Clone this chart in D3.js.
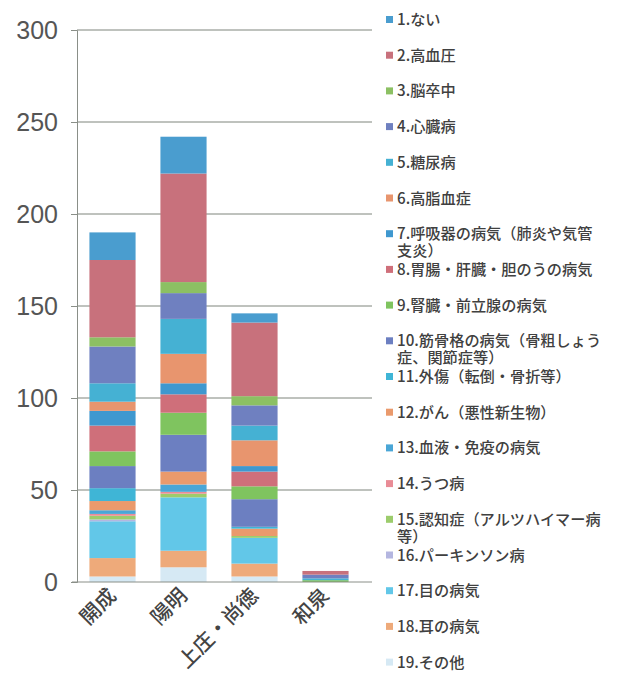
<!DOCTYPE html>
<html>
<head>
<meta charset="utf-8">
<script src="https://cdn.jsdelivr.net/npm/d3@7"></script>
<style>
  html, body { margin: 0; padding: 0; background: #fff; }
  svg { display: block; }
</style>
</head>
<body>
<svg id="chart" width="620" height="674"></svg>
<script>
// ---- data ----
const categories = ["開成", "陽明", "上庄・尚徳", "和泉"];
const seriesNames = [
  "1.ない", "2.高血圧", "3.脳卒中", "4.心臓病", "5.糖尿病", "6.高脂血症",
  "7.呼吸器の病気（肺炎や気管|支炎）", "8.胃腸・肝臓・胆のうの病気", "9.腎臓・前立腺の病気",
  "10.筋骨格の病気（骨粗しょう|症、関節症等）", "11.外傷（転倒・骨折等）", "12.がん（悪性新生物）",
  "13.血液・免疫の病気", "14.うつ病", "15.認知症（アルツハイマー病|等）", "16.パーキンソン病",
  "17.目の病気", "18.耳の病気", "19.その他"
];
// values per category, in series order 1..19
const kaisei   = [15, 42, 5, 20, 10, 5, 8, 14, 8, 12, 7, 5, 2, 1, 2, 1, 20, 10, 3];
const youmei   = [20, 59, 6, 14, 19, 16, 6, 10, 12, 20, 0, 7, 4, 1, 2, 0, 29, 9, 8];
const kamisho  = [5, 40, 5, 11, 8, 14, 3, 8, 7, 15, 1, 4, 0, 0, 1, 0, 14, 7, 3];
const izumi    = [0, 2, 0, 2, 1, 0, 0, 0, 1, 0, 0, 0, 0, 0, 0, 0, 0, 0, 0];
const yTicks = [0, 50, 100, 150, 200, 250, 300];

const seriesColors = [
  "#4a9dcf", "#c8717c", "#8cc063", "#6f80c0", "#45b1d3", "#e8956e",
  "#3f98cf", "#cf6f7a", "#7fc45f", "#6c7fc1", "#3fb5d6", "#ea9a6c",
  "#4aa6d6", "#e98c96", "#9ccc6c", "#b4b6e0", "#62c7e8", "#eeaa7a", "#d6e9f4"
];

// ---- build table ----
const byCat = [kaisei, youmei, kamisho, izumi];
const rows = categories.map((c, i) => {
  const r = { cat: c };
  seriesNames.forEach((s, j) => { r["s" + j] = byCat[i][j]; });
  return r;
});
// stack so that series 1 is at the top: stack keys bottom-first
const keysBottomFirst = seriesNames.map((s, j) => "s" + j).reverse();
const stacked = d3.stack().keys(keysBottomFirst)(rows);

// ---- layout ----
const svg = d3.select("#chart");
const plotLeft = 77, plotRight = 372, gridLeft = 77;
const x = d3.scaleBand().domain(categories).range([77, 361]).paddingInner(0.35).paddingOuter(0.175);
const y = d3.scaleLinear().domain([0, 300]).range([582, 30]);

// gridlines
svg.append("g").selectAll("line").data(yTicks.filter(t => t > 0)).join("line")
  .attr("x1", gridLeft).attr("x2", plotRight)
  .attr("y1", d => y(d)).attr("y2", d => y(d))
  .attr("stroke", "#7f857d").attr("stroke-width", 1);

// y axis
const yAxis = d3.axisLeft(y).tickValues(yTicks).tickSize(6).tickPadding(13);
const gy = svg.append("g").attr("transform", `translate(${plotLeft},0)`).call(yAxis);
gy.select(".domain").attr("stroke", "#8a8f88");
gy.selectAll(".tick line").attr("stroke", "#8a8f88");
gy.selectAll(".tick text")
  .attr("font-family", "'Liberation Sans', Arial, sans-serif")
  .attr("font-size", 25).attr("fill", "#555");

// bars
svg.append("g").selectAll("g").data(stacked).join("g")
  .attr("fill", d => seriesColors[seriesNames.length - 1 - keysBottomFirst.indexOf(d.key)])
  .selectAll("rect").data(d => d).join("rect")
  .attr("x", d => x(d.data.cat))
  .attr("width", x.bandwidth())
  .attr("y", d => y(d[1]))
  .attr("height", d => Math.max(0, y(d[0]) - y(d[1])));

// x axis
const xAxis = d3.axisBottom(x).tickSize(0).tickPadding(0);
const gx = svg.append("g").attr("transform", `translate(0,${y(0)})`).call(xAxis);
gx.select(".domain").attr("stroke", "#8a8f88").attr("d", `M${plotLeft - 5},0H${plotRight}`);
gx.selectAll(".tick text")
  .attr("font-family", "'Noto Sans CJK JP', sans-serif")
  .attr("font-size", 20.5).attr("font-weight", 500).attr("fill", "#444")
  .attr("text-anchor", "end")
  .attr("dy", 0)
  .attr("transform", "translate(5,15) rotate(-45)");

// legend
const legend = svg.append("g");
seriesNames.forEach((name, i) => {
  const cy = 20 + i * 35.7;
  const g = legend.append("g");
  g.append("rect").attr("x", 386).attr("y", cy - 4).attr("width", 7).attr("height", 7)
    .attr("fill", seriesColors[i]);
  const lines = name.split("|");
  lines.forEach((ln, k) => {
    g.append("text")
      .attr("x", 397).attr("y", cy + 5 + k * 17)
      .attr("font-family", "'Noto Sans CJK JP', sans-serif")
      .attr("font-size", 15.2).attr("font-weight", 500).attr("fill", "#404040")
      .text(ln);
  });
});
</script>
</body>
</html>
